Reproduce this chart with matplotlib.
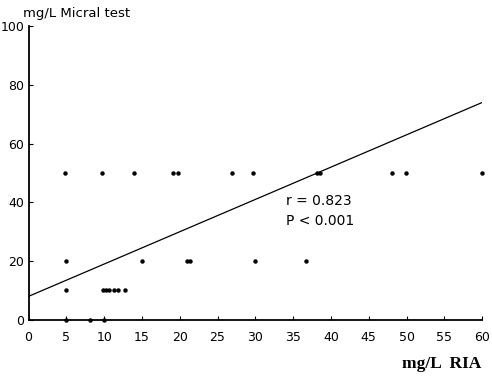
import numpy as np
import matplotlib.pyplot as plt

# RIA (x) vs Micral test (y), mg/L
x_50 = [4.8, 9.7, 13.9, 19.1, 19.8, 26.9, 29.7, 38.2, 38.6, 48.1, 49.9, 60.0]
x_20 = [5.0, 15.0, 21.0, 21.3, 30.0, 36.7]
x_10 = [5.0, 9.9, 10.3, 10.7, 11.3, 11.8, 12.8]
x_0 = [5.0, 8.1, 10.0]

ria = np.array(x_50 + x_20 + x_10 + x_0)
micral = np.array([50] * len(x_50) + [20] * len(x_20) + [10] * len(x_10) + [0] * len(x_0))

# regression line as drawn
fit_x = [0, 60]
fit_y = [8, 74]

xticks = list(range(0, 61, 5))
yticks = [0, 20, 40, 60, 80, 100]

fig = plt.figure(figsize=(4.92, 3.84), dpi=100)
ax = fig.add_axes([0.058, 0.167, 0.922, 0.765])

ax.plot(ria, micral, 'o', color='black', markersize=2.2, clip_on=False)
ax.plot(fit_x, fit_y, color='black', linewidth=0.9)

ax.set_xlim(0, 60)
ax.set_ylim(0, 100)
ax.set_xticks(xticks)
ax.set_yticks(yticks)
ax.spines['top'].set_visible(False)
ax.spines['right'].set_visible(False)
ax.spines['left'].set_linewidth(1.3)
ax.spines['bottom'].set_linewidth(1.3)
ax.tick_params(direction='in', length=3, width=0.8, labelsize=9, pad=8)
ax.tick_params(axis='y', pad=3)

ax.text(34, 40.5, 'r = 0.823', fontsize=10, va='center')
ax.text(34, 33.8, 'P < 0.001', fontsize=10, va='center')

fig.text(0.047, 0.948, 'mg/L Micral test', fontsize=9.5, ha='left', va='bottom')
fig.text(0.978, 0.03, 'mg/L  RIA', fontsize=12.5, family='Liberation Serif',
         weight='bold', ha='right', va='bottom')

fig.savefig('out.png', dpi=100)
